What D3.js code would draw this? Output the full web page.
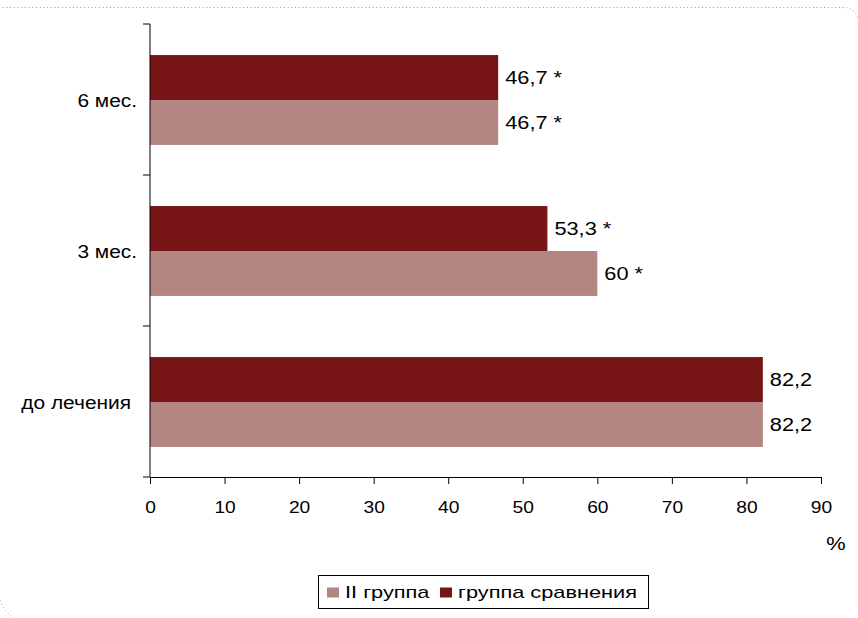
<!DOCTYPE html>
<html>
<head>
<meta charset="utf-8">
<script src="https://cdn.jsdelivr.net/npm/d3@7"></script>
<style>
  html, body { margin: 0; padding: 0; background: #fff; }
  svg { display: block; font-family: "Liberation Sans", Arial, sans-serif; }
</style>
</head>
<body>
<svg id="chart" width="858" height="618"></svg>
<script>
// ---- data ----
const categories = ["6 мес.", "3 мес.", "до лечения"];          // top to bottom
const seriesNames = ["группа сравнения", "II группа"];          // top bar, bottom bar in each group
const valuesCompare = [46.7, 53.3, 82.2];                        // группа сравнения
const valuesGroup2  = [46.7, 60, 82.2];                          // II группа
const labelsCompare = ["46,7 *", "53,3 *", "82,2"];
const labelsGroup2  = ["46,7 *", "60 *", "82,2"];
const xTicks = [0, 10, 20, 30, 40, 50, 60, 70, 80, 90];
const legendOrder = ["II группа", "группа сравнения"];
const colors = { "группа сравнения": "#771416", "II группа": "#b38684" };

const svg = d3.select("#chart");

// dotted frame (top-right and bottom-left corners rounded)
const fr = d3.path();
fr.moveTo(-1, 7.5);
fr.lineTo(844, 7.5);
fr.arcTo(858.5, 7.5, 858.5, 22, 14.5);
fr.lineTo(858.5, 622);
fr.lineTo(29, 622);
fr.arcTo(-1, 622, -1, 592, 30);
fr.lineTo(-1, 7.5);
svg.append("path").attr("d", fr.toString())
  .attr("fill", "none").attr("stroke", "#9a9a9a").attr("stroke-width", 1)
  .attr("stroke-dasharray", "1,2.7");

const mLeft = 150, mRight = 821, mTop = 24, mBottom = 477;

const x = d3.scaleLinear().domain([0, 90]).range([mLeft, mRight]);
const y0 = d3.scaleBand().domain(categories).range([mTop, mBottom]);
const y1 = d3.scaleBand().domain(seriesNames).range([0, y0.bandwidth()]).paddingOuter(0.68).paddingInner(0);

const rows = categories.map((c, i) => ({
  cat: c,
  vals: [
    { s: "группа сравнения", v: valuesCompare[i], label: labelsCompare[i] },
    { s: "II группа", v: valuesGroup2[i], label: labelsGroup2[i] }
  ]
}));

const g = svg.append("g");
const groups = g.selectAll("g.cat").data(rows).join("g")
  .attr("transform", d => `translate(0,${y0(d.cat)})`);

groups.selectAll("rect").data(d => d.vals).join("rect")
  .attr("x", x(0))
  .attr("y", d => y1(d.s) + 0.5)
  .attr("width", d => x(d.v) - x(0))
  .attr("height", y1.bandwidth())
  .attr("fill", d => colors[d.s]);

groups.selectAll("text.val").data(d => d.vals).join("text")
  .attr("class", "val")
  .attr("transform", d => `translate(${x(d.v) + 7},${y1(d.s) + y1.bandwidth() / 2 + 0.5}) scale(1.21,1)`)
  .attr("dy", "0.35em")
  .attr("font-size", 18)
  .attr("fill", "#000")
  .text(d => d.label);

// x axis
const xAxis = d3.axisBottom(x).tickValues(xTicks).tickSize(7).tickPadding(18).tickSizeOuter(0);
const gx = svg.append("g").attr("transform", `translate(0,${mBottom})`).call(xAxis);
gx.select(".domain").attr("stroke", "#000");
gx.selectAll(".tick line").attr("stroke", "#000");
gx.selectAll(".tick text")
  .attr("font-size", 16).attr("font-family", "Liberation Sans, Arial, sans-serif")
  .attr("fill", "#000")
  .attr("transform", "scale(1.2,1)");

// y axis: line with ticks at category boundaries
const yAxisG = svg.append("g");
yAxisG.append("line")
  .attr("x1", mLeft).attr("x2", mLeft).attr("y1", mTop).attr("y2", mBottom)
  .attr("stroke", "#000");
const boundaries = categories.map(c => y0(c)).concat([y0(categories[categories.length - 1]) + y0.bandwidth()]);
yAxisG.selectAll("line.tk").data(boundaries).join("line")
  .attr("class", "tk")
  .attr("x1", mLeft - 7).attr("x2", mLeft).attr("y1", d => d).attr("y2", d => d)
  .attr("stroke", "#000");

yAxisG.selectAll("text.cat").data(categories).join("text")
  .attr("class", "cat")
  .attr("transform", d => `translate(${d === "до лечения" ? 131 : 137},${y0(d) + y0.bandwidth() / 2 + 1}) scale(1.16,1)`)
  .attr("text-anchor", "end")
  .attr("dy", "0.35em")
  .attr("font-size", 18)
  .attr("fill", "#000")
  .text(d => d);

// unit label
svg.append("text")
  .attr("transform", "translate(836,543) scale(1.15,1)")
  .attr("text-anchor", "middle").attr("dy", "0.35em")
  .attr("font-size", 19).attr("fill", "#000")
  .text("%");

// legend
const lg = svg.append("g");
lg.append("rect").attr("x", 318.5).attr("y", 575.5).attr("width", 330).attr("height", 33)
  .attr("fill", "#fff").attr("stroke", "#000").attr("stroke-width", 1);
const legendX = [327, 440];
const items = lg.selectAll("g.item").data(legendOrder).join("g")
  .attr("class", "item")
  .attr("transform", (d, i) => `translate(${legendX[i]},592.5)`);
items.append("rect").attr("x", 0).attr("y", -5).attr("width", 12).attr("height", 10)
  .attr("fill", d => colors[d]);
items.append("text")
  .attr("transform", "translate(18,0) scale(1.28,1)")
  .attr("dy", "0.35em").attr("font-size", 17).attr("fill", "#000")
  .text(d => d);
</script>
</body>
</html>
